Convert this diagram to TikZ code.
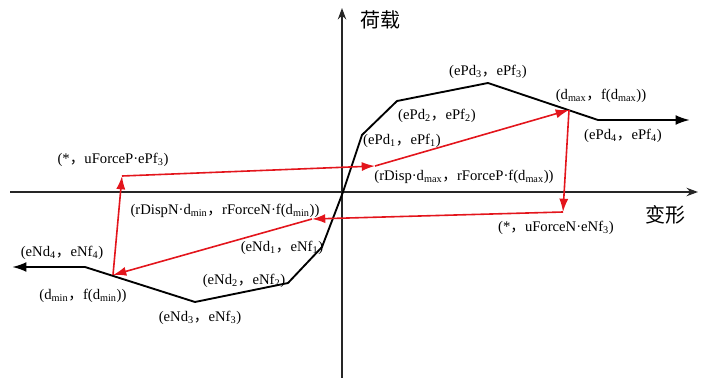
\documentclass[tikz,border=0pt]{standalone}
\usepackage{fontspec}
\setmainfont{Liberation Serif}
\newfontfamily\cjk{Noto Sans CJK SC}
\usetikzlibrary{arrows.meta}
\definecolor{CycRed}{HTML}{E3151C}
\newcommand{\zcomma}{{\cjk ，}}
\newcommand{\lowidx}[1]{\textsubscript{#1}}
\tikzset{
  axis/.style={line width=1.1pt, draw=black!85, -{Stealth[length=3mm,width=2.2mm]}},
  bb/.style={line width=1.4pt, draw=black, line join=round},
  bbend/.style={line width=1.6pt, draw=black, -{Latex[length=3.8mm,width=2.6mm]}},
  cyc/.style={-{Latex[length=3.5mm,width=2.4mm]}, line width=1.2pt, draw=CycRed},
  lbl/.style={font=\fontsize{11}{13}\selectfont, inner sep=1pt},
  ttl/.style={font=\cjk\fontsize{15}{18}\selectfont, inner sep=1pt}
}
\begin{document}
\begin{tikzpicture}[x=0.75pt,y=-0.75pt]
\useasboundingbox (0,0) rectangle (701,378);
\coordinate (xL) at (10,192);
\coordinate (xR) at (698,192);
\coordinate (yB) at (342,378);
\coordinate (yT) at (342,8);
\draw[axis] (xL) -- (xR);
\draw[axis] (yB) -- (yT);
\node[ttl] (ylab) at (380,20) {荷载};
\node[ttl] (xlab) at (665,215) {变形};

\coordinate (O) at (343,192);
\coordinate (P1) at (362,135);
\coordinate (P2) at (397,101);
\coordinate (P3) at (488,83);
\coordinate (P4) at (598,120);
\coordinate (P4e) at (690,120);
\coordinate (N1) at (322,247);
\coordinate (N2) at (288,283);
\coordinate (N3) at (195,302);
\coordinate (N4) at (85,267);
\coordinate (N4e) at (12,267);
\coordinate (Dmax) at (569,110);
\coordinate (Dmin) at (113,275);
\draw[bb] (N4) -- (N3) -- (N2) -- (N1) -- (O) -- (P1) -- (P2) -- (P3) -- (P4);
\draw[bbend] (P4) -- (P4e);
\draw[bbend] (N4) -- (N4e);

\coordinate (A) at (122,176);
\coordinate (B) at (375,166);
\coordinate (C) at (563,212);
\coordinate (D) at (312,219);
\draw[cyc] (A) -- (B);
\draw[cyc] (B) -- (Dmax);
\draw[cyc] (Dmax) -- (C);
\draw[cyc] (C) -- (D);
\draw[cyc] (D) -- (Dmin);
\draw[cyc] (Dmin) -- (A);

\node[lbl] (lP1) at (402,141) {(ePd\lowidx{1}\zcomma ePf\lowidx{1})};
\node[lbl] (lP2) at (437,116) {(ePd\lowidx{2}\zcomma ePf\lowidx{2})};
\node[lbl] (lP3) at (488,72) {(ePd\lowidx{3}\zcomma ePf\lowidx{3})};
\node[lbl] (lP4) at (623,136) {(ePd\lowidx{4}\zcomma ePf\lowidx{4})};
\node[lbl] (lDmax) at (601,96) {(d\lowidx{max}\zcomma f(d\lowidx{max}))};
\node[lbl] (lN1) at (282,248) {(eNd\lowidx{1}\zcomma eNf\lowidx{1})};
\node[lbl] (lN2) at (244,281) {(eNd\lowidx{2}\zcomma eNf\lowidx{2})};
\node[lbl] (lN3) at (200,318) {(eNd\lowidx{3}\zcomma eNf\lowidx{3})};
\node[lbl] (lN4) at (62,253) {(eNd\lowidx{4}\zcomma eNf\lowidx{4})};
\node[lbl] (lDmin) at (83,296) {(d\lowidx{min}\zcomma f(d\lowidx{min}))};
\node[lbl] (lA) at (113,160) {(*\zcomma uForceP·ePf\lowidx{3})};
\node[lbl] (lB) at (464,177) {(rDisp·d\lowidx{max}\zcomma rForceP·f(d\lowidx{max}))};
\node[lbl] (lC) at (556,228) {(*\zcomma uForceN·eNf\lowidx{3})};
\node[lbl] (lD) at (225,211) {(rDispN·d\lowidx{min}\zcomma rForceN·f(d\lowidx{min}))};
\end{tikzpicture}
\end{document}
